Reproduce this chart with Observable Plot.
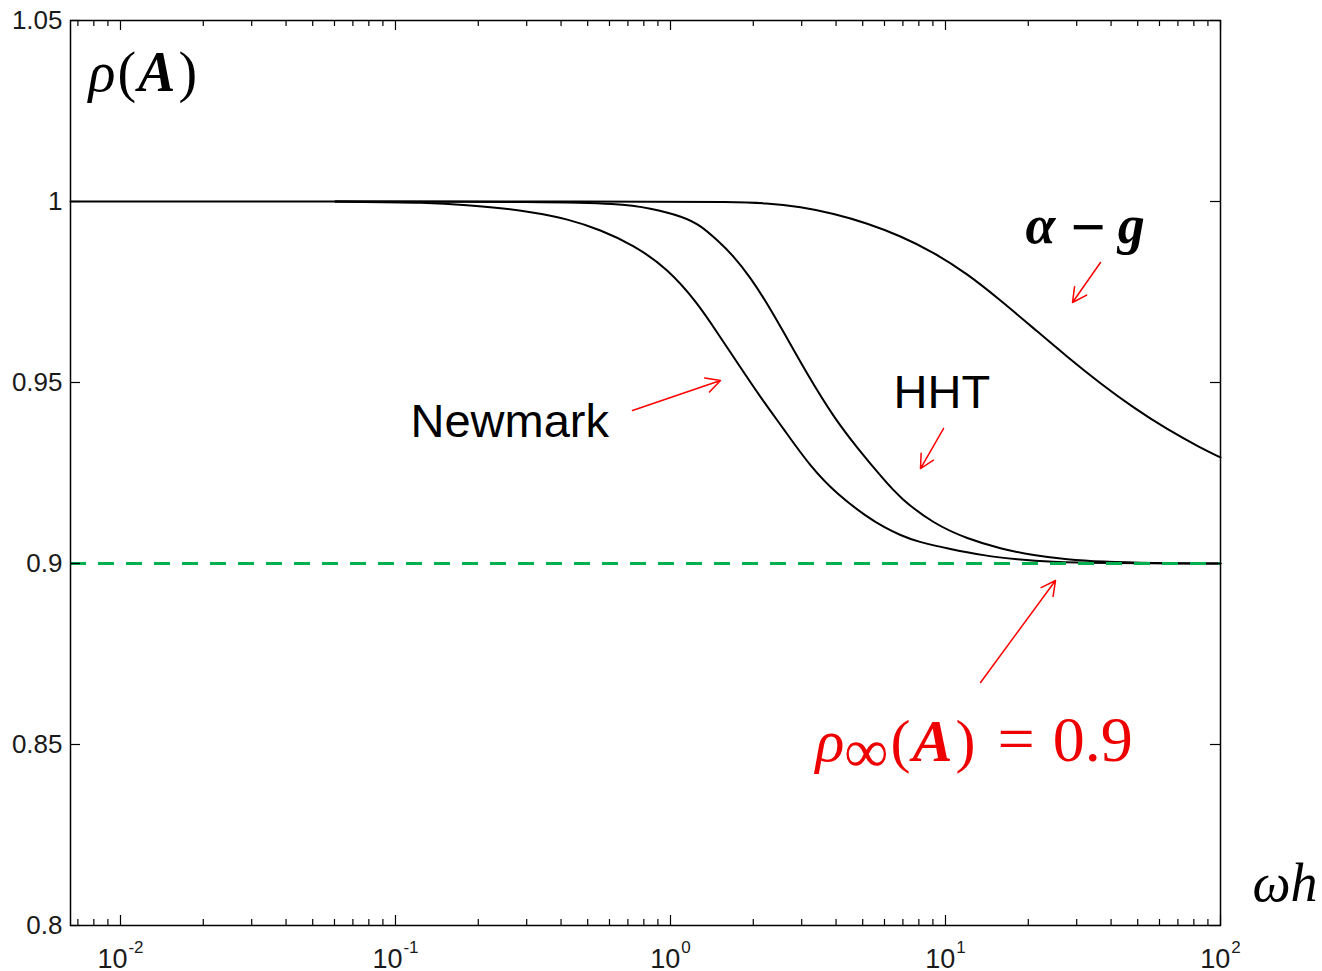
<!DOCTYPE html>
<html><head><meta charset="utf-8">
<script src="https://cdn.jsdelivr.net/npm/d3@7"></script>
<script src="https://cdn.jsdelivr.net/npm/@observablehq/plot@0.6"></script>
<style>
html,body{margin:0;padding:0;background:#fff;}
#chart svg{display:block;}
</style>
</head><body><div id="chart"></div>
<script>
// ---------------- data ----------------
const xDomain = [0.00658, 100];          // ωh
const yDomain = [0.8, 1.05];             // ρ(A)
const yTickValues = [0.8, 0.85, 0.9, 0.95, 1.0, 1.05];
const yTickLabels = ["0.8", "0.85", "0.9", "0.95", "1", "1.05"];
const xMajorValues = [0.01, 0.1, 1, 10, 100];
const xMajorExponents = ["-2", "-1", "0", "1", "2"];
const rhoInf = 0.9;

const newmarkWh  = [0.0605, 0.134, 0.183, 0.241, 0.318, 0.422, 0.556, 0.733, 0.975, 1.253, 1.482, 1.798, 2.125, 2.576, 3.228, 4.047, 5.200, 5.98, 6.855, 7.90, 10.42, 13.74, 18.27, 24.09, 36.6, 100];
const newmarkRho = [1.0, 0.9997, 0.9990, 0.9982, 0.9970, 0.9952, 0.9922, 0.9880, 0.9815, 0.9720, 0.9637, 0.9541, 0.9459, 0.9372, 0.9267, 0.9190, 0.9128, 0.9100, 0.9078, 0.9060, 0.9040, 0.9022, 0.9011, 0.9004, 0.9001, 0.9000];

const hhtWh  = [0.0605, 0.366, 0.641, 0.845, 1.114, 1.285, 1.48, 1.694, 1.954, 2.253, 2.576, 3.148, 3.914, 4.789, 5.957, 6.855, 9.04, 12.02, 15.85, 20.89, 27.78, 36.6, 55.6, 100];
const hhtRho = [1.0, 0.9999, 0.9994, 0.9982, 0.9958, 0.9934, 0.9893, 0.9850, 0.9790, 0.9717, 0.9640, 0.9522, 0.9405, 0.9318, 0.9232, 0.9180, 0.9110, 0.9068, 0.9041, 0.9022, 0.9011, 0.9005, 0.9001, 0.9000];

const agWh  = [0.00658, 1.0, 1.6, 2.253, 2.97, 3.914, 5.20, 6.855, 9.04, 12.02, 15.85, 20.89, 27.78, 36.6, 48.3, 64.1, 84.5, 100];
const agRho = [1.0, 1.0, 0.9999, 0.9996, 0.9985, 0.9967, 0.9940, 0.9905, 0.9860, 0.9800, 0.9727, 0.9650, 0.9570, 0.9497, 0.9430, 0.9370, 0.9320, 0.9293];

// annotation anchors in data units (ωh, ρ)
const labelNames = ["rhoA", "ag", "newmark", "hht", "rhoinf", "wh"];
const labelWh    = [0.00765, 19.54, 0.1134, 6.471, 3.368, 130.7];
const labelRho   = [1.0304, 0.98867, 0.93481, 0.94309, 0.84558, 0.8069];

const arrowFromWh  = [0.7276, 9.834, 36.61, 13.41];
const arrowFromRho = [0.94227, 0.93729, 0.98315, 0.86713];
const arrowToWh    = [1.520, 8.111, 28.96, 25.12];
const arrowToRho   = [0.95055, 0.92624, 0.9721, 0.89530];

// ---------------- build ----------------
const series = [
  {name: "Newmark", wh: newmarkWh, rho: newmarkRho},
  {name: "HHT", wh: hhtWh, rho: hhtRho},
  {name: "alpha-g", wh: agWh, rho: agRho}
];
const rows = series.flatMap(s => s.wh.map((w, i) => ({series: s.name, wh: w, rho: s.rho[i]})));
const arrows = arrowFromWh.map((_, i) => ({x1: arrowFromWh[i], y1: arrowFromRho[i], x2: arrowToWh[i], y2: arrowToRho[i]}));

const xMinor = [];
for (let e = -3; e <= 1; e++) for (let k = 2; k <= 9; k++) {
  const v = k * Math.pow(10, e);
  if (v >= xDomain[0] && v <= xDomain[1]) xMinor.push(v);
}

const W = 1322, H = 971, mL = 70, mR = 102, mT = 20, mB = 46;
const plotW = W - mL - mR, plotH = H - mT - mB;
const major = 10, minor = 6;
const sans = "'Liberation Sans', Arial, Helvetica, sans-serif";
const serif = "'Liberation Serif', 'DejaVu Serif', serif";

const labelStyles = {
  rhoA:    {fontFamily: serif, fontSize: 56, fill: "#000"},
  ag:      {fontFamily: serif, fontSize: 54, fill: "#000", fontWeight: "bold"},
  newmark: {fontFamily: sans, fontSize: 47, fill: "#000"},
  hht:     {fontFamily: sans, fontSize: 47, fill: "#000"},
  rhoinf:  {fontFamily: serif, fontSize: 60, fill: "#ee0000"},
  wh:      {fontFamily: serif, fontSize: 54, fill: "#000"}
};
const labelPlain = {rhoA: "ρ(A)", ag: "α − g", newmark: "Newmark", hht: "HHT", rhoinf: "ρ∞(A) = 0.9", wh: "ωh"};
const labelSegments = {
  rhoA: [{t: "ρ", i: 1}, {t: "(", dx: 2}, {t: "A", i: 1, b: 1, dx: 2}, {t: ")", dx: 3}],
  ag: [{t: "α", i: 1, b: 1}, {t: "−", size: 62, dx: 15, dy: 5}, {t: "g", i: 1, b: 1, dx: 12, dy: -5}],
  rhoinf: [{t: "ρ", i: 1}, {t: "∞", size: 62, dy: 11}, {t: "(", dy: -11, dx: 2}, {t: "A", i: 1, b: 1, dx: 2}, {t: ")", dx: 3}, {t: "=", dx: 22, size: 66}, {t: "0.9", dx: 18, size: 64}],
  wh: [{t: "ωh", i: 1}]
};

const labelMarks = labelNames.map((name, i) => Plot.text([i], {
  x: () => labelWh[i], y: () => labelRho[i],
  text: () => labelPlain[name],
  textAnchor: "start", lineAnchor: "bottom",
  ariaLabel: () => "ann-" + name,
  ...labelStyles[name]
}));

const chart = Plot.plot({
  width: W, height: H,
  marginTop: mT, marginRight: mR, marginBottom: mB, marginLeft: mL,
  style: {fontFamily: sans, background: "#fff", overflow: "visible"},
  x: {type: "log", domain: xDomain, axis: null},
  y: {domain: yDomain, axis: null},
  marks: [
    // curves
    Plot.line(rows, {x: "wh", y: "rho", z: "series", stroke: "#000", strokeWidth: 2, curve: "basis"}),
    // asymptote
    Plot.ruleY([rhoInf], {stroke: "#00b050", strokeWidth: 3.2, strokeDasharray: "16,12"}),
    // frame and inward ticks
    Plot.frame({stroke: "#000", strokeWidth: 1.5}),
    Plot.tickY(yTickValues, {y: d => d, insetRight: plotW - major, stroke: "#000", strokeWidth: 1.2}),
    Plot.tickY(yTickValues, {y: d => d, insetLeft: plotW - major, stroke: "#000", strokeWidth: 1.2}),
    Plot.tickX(xMajorValues, {x: d => d, insetTop: plotH - major, stroke: "#000", strokeWidth: 1.2}),
    Plot.tickX(xMajorValues, {x: d => d, insetBottom: plotH - major, stroke: "#000", strokeWidth: 1.2}),
    Plot.tickX(xMinor, {x: d => d, insetTop: plotH - minor, stroke: "#000", strokeWidth: 1.2}),
    Plot.tickX(xMinor, {x: d => d, insetBottom: plotH - minor, stroke: "#000", strokeWidth: 1.2}),
    // tick labels
    Plot.text(yTickValues, {y: d => d, text: (d, i) => yTickLabels[i], frameAnchor: "left", dx: -8, textAnchor: "end", fontSize: 26, fill: "#1a1a1a", fontFamily: sans}),
    Plot.text(xMajorValues, {x: d => d, text: (d, i) => xMajorExponents[i], frameAnchor: "bottom", dy: 42, lineAnchor: "bottom", textAnchor: "middle", fontSize: 27, fill: "#1a1a1a", fontFamily: sans, ariaLabel: () => "xlab"}),
    // arrows
    Plot.arrow(arrows, {x1: "x1", y1: "y1", x2: "x2", y2: "y2", stroke: "#ff0000", strokeWidth: 1.5, headLength: 16, headAngle: 55, bend: 0}),
    ...labelMarks
  ]
});

// rich text formatting (superscripts, italic/bold math)
const NS = "http://www.w3.org/2000/svg";
function rich(el, segs) {
  while (el.firstChild) el.removeChild(el.firstChild);
  for (const s of segs) {
    const ts = document.createElementNS(NS, "tspan");
    ts.textContent = s.t;
    if (s.i) ts.setAttribute("font-style", "italic");
    if (s.b) ts.setAttribute("font-weight", "bold");
    if (s.size) ts.setAttribute("font-size", s.size);
    if (s.dy) ts.setAttribute("dy", s.dy);
    if (s.dx) ts.setAttribute("dx", s.dx);
    el.appendChild(ts);
  }
}
chart.querySelectorAll('text[aria-label="xlab"]').forEach(el => {
  const exp = el.textContent;
  rich(el, [{t: "10"}, {t: exp, size: 17, dy: -15, dx: 1}]);
});
for (const name of Object.keys(labelSegments)) {
  const el = chart.querySelector(`text[aria-label="ann-${name}"]`);
  if (el) rich(el, labelSegments[name]);
}

document.getElementById("chart").appendChild(chart);
</script>
</body></html>
